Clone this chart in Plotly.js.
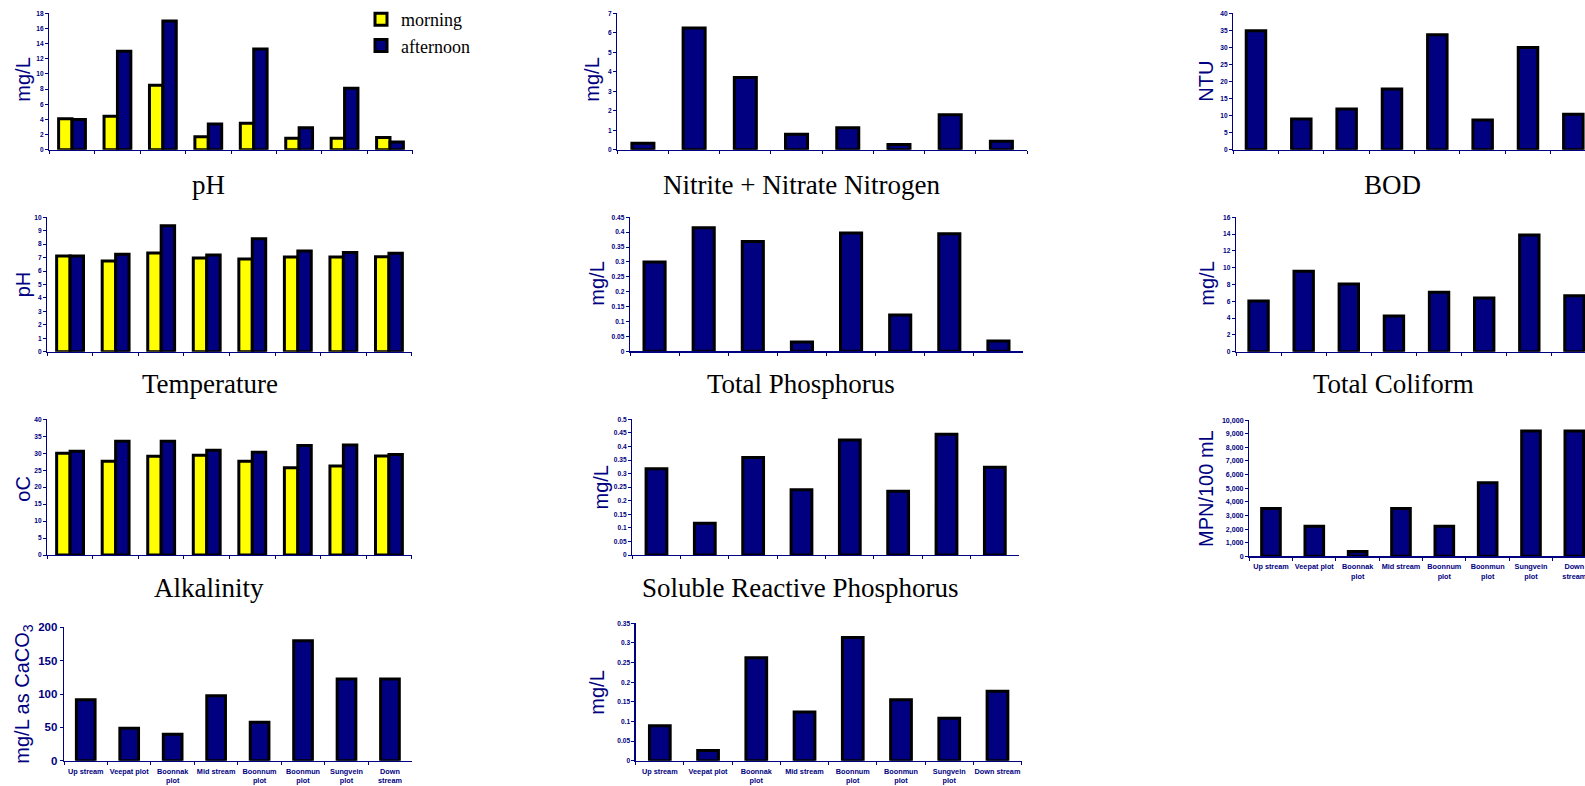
<!DOCTYPE html>
<html>
<head>
<meta charset="utf-8">
<script src="https://cdn.plot.ly/plotly-3.0.1.min.js"></script>
<style>
  html, body { margin: 0; padding: 0; background: #fff; }
  #chart { width: 1585px; height: 786px; }
</style>
</head>
<body>
<div id="chart"></div>
<script>
// ---------------- DATA ----------------
const categories = ["Up stream", "Veepat plot", "Boonnak plot", "Mid stream", "Boonnum plot", "Boonmun plot", "Sungvein plot", "Down stream"];
const tickLabelsWrapped = ["Up stream", "Veepat plot", "Boonnak<br>plot", "Mid stream", "Boonnum<br>plot", "Boonmun<br>plot", "Sungvein<br>plot", "Down<br>stream"];
const tickLabelsLastRow2 = ["Up stream", "Veepat plot", "Boonnak<br>plot", "Mid stream", "Boonnum<br>plot", "Boonmun<br>plot", "Sungvein<br>plot", "Down stream"];
const seriesNames = ["morning", "afternoon"];

const phMorning       = [4.1, 4.4, 8.5, 1.7, 3.5, 1.5, 1.5, 1.6];
const phAfternoon     = [4.0, 13.0, 17.0, 3.4, 13.3, 2.9, 8.1, 1.0];
const nitriteNitrate  = [0.33, 6.25, 3.71, 0.79, 1.13, 0.27, 1.8, 0.44];
const bod             = [34.9, 9.0, 11.9, 17.8, 33.7, 8.7, 30.0, 10.4];
const tempMorning     = [7.12, 6.75, 7.34, 6.97, 6.9, 7.05, 7.05, 7.07];
const tempAfternoon   = [7.12, 7.25, 9.38, 7.2, 8.41, 7.49, 7.39, 7.32];
const totalPhosphorus = [0.30, 0.415, 0.369, 0.031, 0.397, 0.122, 0.395, 0.034];
const totalColiform   = [6.03, 9.57, 8.06, 4.25, 7.07, 6.39, 13.9, 6.67];
const alkMorning      = [30.0, 27.6, 29.1, 29.4, 27.6, 25.7, 26.2, 29.2];
const alkAfternoon    = [30.6, 33.5, 33.5, 30.9, 30.3, 32.3, 32.4, 29.6];
const solubleReactiveP = [0.318, 0.117, 0.359, 0.24, 0.424, 0.235, 0.445, 0.323];
const mpn             = [3500, 2200, 350, 3500, 2200, 5400, 9200, 9200];
const alkalinityCaCO3 = [91.5, 48.5, 39.5, 97.5, 57.5, 180, 122.5, 122.5];
const lastPanel       = [0.089, 0.026, 0.262, 0.124, 0.314, 0.155, 0.108, 0.177];

const panelTitles = ["pH", "Nitrite + Nitrate Nitrogen", "BOD", "Temperature", "Total Phosphorus", "Total Coliform", "Alkalinity", "Soluble Reactive Phosphorus"];
const yTitles = ["mg/L", "mg/L", "NTU", "pH", "mg/L", "mg/L", "oC", "mg/L", "MPN/100 mL", "mg/L as CaCO<sub>3</sub>", "mg/L"];

// ---------------- STYLE / GEOMETRY ----------------
const W = 1585, H = 786;
const NAVY = "#000080", YELLOW = "#FFFF00";
const px = x => x / W;
const py = y => 1 - y / H;

// pixel geometry for each panel: left, right (full axis end), top, bottom
const geo = [
  {l: 49.3,  r: 412.7,  t: 13.3,  b: 149.7, max: 18,    dtick: 2},
  {l: 617.3, r: 1027,   t: 13.3,  b: 149.7, max: 7,     dtick: 1},
  {l: 1233.3,r: 1596,   t: 13.3,  b: 149.7, max: 40,    dtick: 5},
  {l: 47.3,  r: 411.7,  t: 217.3, b: 351.7, max: 10,    dtick: 1},
  {l: 630,   r: 1023,   t: 217.3, b: 351.2, max: 0.45,  dtick: 0.05},
  {l: 1236,  r: 1597,   t: 217.3, b: 351.7, max: 16,    dtick: 2},
  {l: 47.3,  r: 411.7,  t: 419.3, b: 555,   max: 40,    dtick: 5},
  {l: 632.3, r: 1019,   t: 419.3, b: 555,   max: 0.5,   dtick: 0.05},
  {l: 1249.3,r: 1596,   t: 420,   b: 556.3, max: 10000, dtick: 1000, fmt: ","},
  {l: 64,    r: 411.7,  t: 627.3, b: 760.7, max: 200,   dtick: 50, big: true},
  {l: 635.7, r: 1021.6, t: 623.3, b: 760.7, max: 0.35,  dtick: 0.05}
];
const yTitlePos = [
  [22.7, 80], [591.7, 80], [1206, 81.7],
  [23.3, 284], [596.7, 284], [1206.7, 284],
  [22.7, 489], [600, 487.5], [1206, 489],
  [22.7, 694], [596.7, 693]
];
const titlePos = [[208, 185], [801, 185], [1392, 185], [210, 384], [800.5, 384], [1393, 384], [209, 588], [800, 588]];

// ---------------- TRACES ----------------
const barLine = {color: "#000", width: 3};
const traces = [];
function single(idx, values) {
  const s = idx === 0 ? "" : String(idx + 1);
  traces.push({type: "bar", x: categories, y: values, xaxis: "x" + s, yaxis: "y" + s,
    width: 0.43, marker: {color: NAVY, line: barLine}, showlegend: false, hoverinfo: "x+y"});
}
function paired(idx, m, a, legend) {
  const s = idx === 0 ? "" : String(idx + 1);
  traces.push({type: "bar", name: seriesNames[0], x: categories, y: m, xaxis: "x" + s, yaxis: "y" + s,
    width: 0.295, offset: -0.295, marker: {color: YELLOW, line: barLine}, showlegend: legend, legendgroup: "m"});
  traces.push({type: "bar", name: seriesNames[1], x: categories, y: a, xaxis: "x" + s, yaxis: "y" + s,
    width: 0.295, offset: 0, marker: {color: NAVY, line: barLine}, showlegend: legend, legendgroup: "a"});
}
paired(0, phMorning, phAfternoon, true);
single(1, nitriteNitrate);
single(2, bod);
paired(3, tempMorning, tempAfternoon, false);
single(4, totalPhosphorus);
single(5, totalColiform);
paired(6, alkMorning, alkAfternoon, false);
single(7, solubleReactiveP);
single(8, mpn);
single(9, alkalinityCaCO3);
single(10, lastPanel);

// ---------------- LAYOUT ----------------
const layout = {
  width: W, height: H,
  margin: {l: 0, r: 0, t: 0, b: 0, pad: 0},
  paper_bgcolor: "#fff", plot_bgcolor: "rgba(0,0,0,0)",
  barmode: "group",
  showlegend: true,
  legend: {
    x: px(361), y: py(1), xanchor: "left", yanchor: "top",
    font: {family: "Liberation Serif, Times New Roman, serif", size: 18, color: "#000"},
    bgcolor: "rgba(0,0,0,0)", tracegroupgap: 0, itemwidth: 30
  },
  annotations: [],
  font: {family: "Liberation Sans, Arial, sans-serif"}
};

geo.forEach((g, i) => {
  const s = i === 0 ? "" : String(i + 1);
  const catW = (g.r - g.l) / 8;
  const right = Math.min(g.r, W);
  const rangeEnd = -0.5 + (right - g.l) / catW;
  const showLabels = i >= 8;
  const labels = i === 10 ? tickLabelsLastRow2 : tickLabelsWrapped;
  layout["xaxis" + s] = {
    domain: [px(g.l), px(right)], anchor: "y" + s, type: "category",
    range: [-0.5, rangeEnd], fixedrange: true,
    showline: true, linecolor: NAVY, linewidth: 1.3,
    ticks: "outside", tickson: "boundaries", ticklen: 3, tickcolor: NAVY, tickwidth: 1,
    showgrid: false, zeroline: false,
    showticklabels: showLabels,
    tickmode: "array", tickvals: categories, ticktext: labels,
    ticklabelstandoff: 3,
    tickfont: {family: "Liberation Sans, Arial, sans-serif", size: 7.3, color: NAVY, weight: "bold"},
    tickangle: 0
  };
  layout["yaxis" + s] = {
    domain: [py(g.b), py(g.t)], anchor: "x" + s,
    range: [0, g.max], dtick: g.dtick, tick0: 0, fixedrange: true,
    showline: true, linecolor: NAVY, linewidth: 1.3,
    ticks: "outside", ticklen: 3, tickcolor: NAVY, tickwidth: 1,
    showgrid: false, zeroline: false,
    tickformat: g.fmt || "",
    tickfont: {family: "Liberation Sans, Arial, sans-serif", size: g.big ? 11.5 : (i === 8 ? 7.1 : 6.6), color: NAVY, weight: "bold"}
  };
  layout.annotations.push({
    text: yTitles[i], xref: "paper", yref: "paper",
    x: px(yTitlePos[i][0]), y: py(yTitlePos[i][1]), xanchor: "center", yanchor: "middle",
    textangle: -90, showarrow: false,
    font: {family: "Liberation Sans, Arial, sans-serif", size: 20, color: NAVY}
  });
});

panelTitles.forEach((t, i) => {
  layout.annotations.push({
    text: t, xref: "paper", yref: "paper",
    x: px(titlePos[i][0]), y: py(titlePos[i][1]), xanchor: "center", yanchor: "middle",
    showarrow: false,
    font: {family: "Liberation Serif, Times New Roman, serif", size: 27, color: "#000"}
  });
});

Plotly.newPlot("chart", traces, layout, {displayModeBar: false, staticPlot: true});
</script>
</body>
</html>
